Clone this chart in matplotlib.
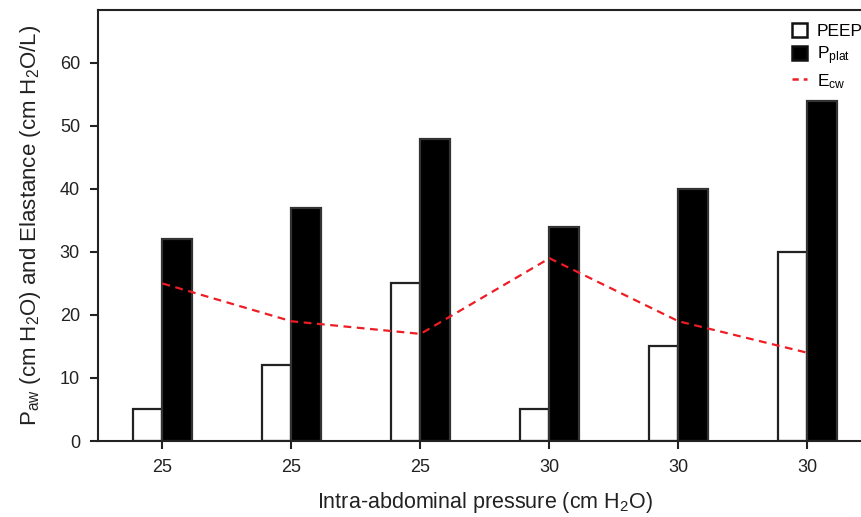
import matplotlib.pyplot as plt
import numpy as np
from matplotlib.patches import Patch
from matplotlib.lines import Line2D

plt.rcParams['font.family'] = 'Liberation Sans'
plt.rcParams['mathtext.fontset'] = 'custom'
plt.rcParams['mathtext.rm'] = 'Liberation Sans'
plt.rcParams['mathtext.it'] = 'Liberation Sans'

# data
iap_labels = ['25', '25', '25', '30', '30', '30']
peep = [5, 12, 25, 5, 15, 30]
pplat = [32, 37, 48, 34, 40, 54]
ecw = [25, 19, 17, 29, 19, 14]

fig = plt.figure(figsize=(8.62, 5.17), dpi=100)
ax = fig.add_axes([98/862, 76/517, 774/862, 431/517])

x = np.arange(len(iap_labels))
w = 0.225
ax.bar(x - w/2, peep, w, color='white', edgecolor='#222222', linewidth=1.6, zorder=2)
ax.bar(x + w/2, pplat, w, color='black', edgecolor='#333333', linewidth=1.6, zorder=2)
ax.plot(x, ecw, color='#ee1c25', linestyle=(0, (3.5, 2.5)), linewidth=1.6, zorder=3)

ax.set_xlim(-0.5, 5.5)
ax.set_ylim(0, 68.4)
ax.set_yticks(range(0, 70, 10))
ax.set_xticks(x)
ax.set_xticklabels(iap_labels)

for s in ['left', 'bottom', 'top', 'right']:
    ax.spines[s].set_linewidth(1.5)
    ax.spines[s].set_color('#222222')
ax.tick_params(axis='both', direction='out', length=6, width=1.5, labelsize=13,
               color='#222222', labelcolor='#222222', pad=7)

ax.set_xlabel(r'Intra-abdominal pressure (cm H$_2$O)', fontsize=15.5, labelpad=10, color='#222222')
ax.set_ylabel(r'P$_{aw}$ (cm H$_2$O) and Elastance (cm H$_2$O/L)', fontsize=16,
              labelpad=12, color='#222222')

handles = [Patch(facecolor='white', edgecolor='#111111', linewidth=1.8),
           Patch(facecolor='black', edgecolor='#111111', linewidth=1.8),
           Line2D([0], [0], color='#ee1c25', linestyle=(0, (2.5, 2)), linewidth=1.8)]
labels = ['PEEP', r'P$_{\mathrm{plat}}$', r'E$_{\mathrm{cw}}$']
fig.legend(handles, labels, loc='upper left', bbox_to_anchor=(783/862, 1 - 14/517),
           frameon=False, fontsize=12.5, handlelength=0.9, handleheight=0.9,
           handletextpad=0.55, labelspacing=0.3, borderpad=0)

fig.savefig('out.png', dpi=100)
